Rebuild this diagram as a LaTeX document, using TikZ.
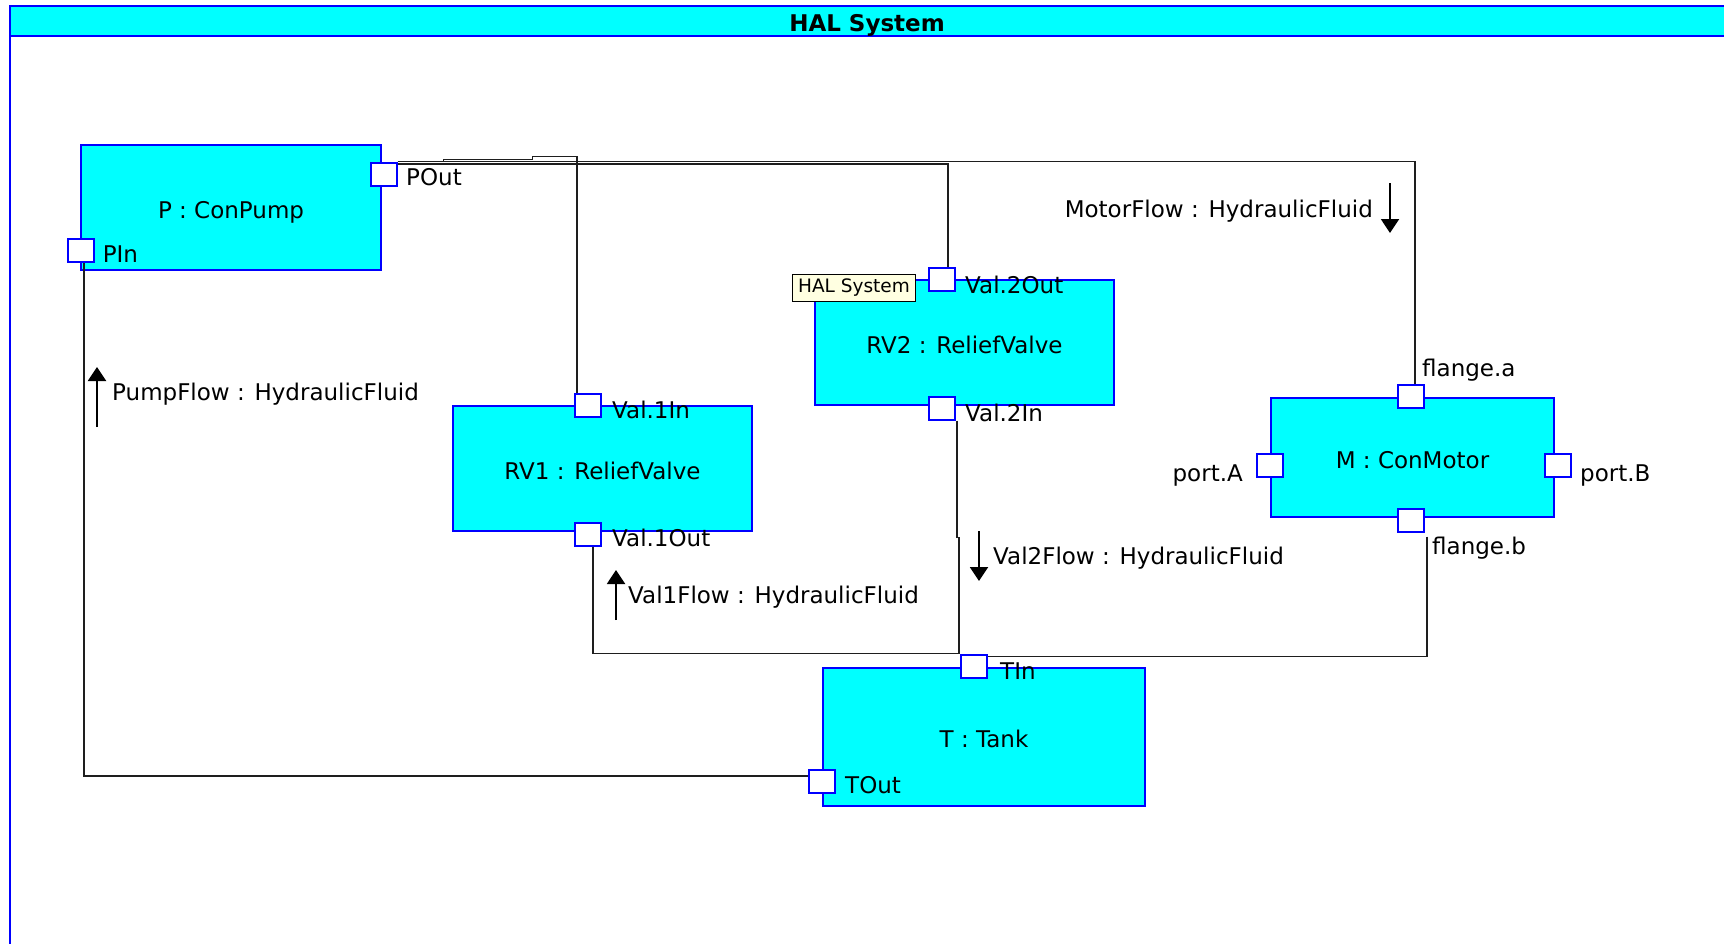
\documentclass[tikz,border=0pt]{standalone}
\usepackage{fontspec}
\setmainfont{DejaVu Sans}
\usetikzlibrary{arrows.meta,calc}
\definecolor{halcyan}{RGB}{0,255,255}
\definecolor{halblue}{RGB}{0,0,255}
\definecolor{tipyellow}{RGB}{255,255,225}
\definecolor{wirecol}{RGB}{30,30,30}
\begin{document}
\begin{tikzpicture}[x=1pt,y=-1pt,
  part/.style={rectangle,draw=halblue,fill=halcyan,line width=2pt,inner sep=0pt,text height=21pt,text depth=0pt,font=\fontsize{23}{27}\selectfont},
  port/.style={rectangle,draw=halblue,fill=white,line width=2pt,inner sep=0pt,minimum width=26pt,minimum height=23pt},
  lbl/.style={inner sep=0pt,font=\fontsize{23}{27}\selectfont},
  wire/.style={draw=wirecol,line width=1.8pt},
  flow/.style={draw=black,line width=2pt,-{Triangle[width=18pt,length=14pt]}}]
\useasboundingbox (0,0) rectangle (1724,943);
\clip (0,0) rectangle (1724,943);
% frame
\draw[halblue,line width=2pt,fill=halcyan] (10,5.5) rectangle (1740,36);
\draw[halblue,line width=2pt] (10,36) -- (10,960);
\node[inner sep=0pt,anchor=base,font=\fontsize{23}{27}\selectfont\bfseries] (title) at (867,31.5) {HAL System};
% parts
\node[part,minimum width=300pt,minimum height=125pt] (P) at (231,207.5) {P : ConPump};
\node[part,minimum width=299pt,minimum height=125pt] (RV1) at (602.5,468.5) {RV1 : ReliefValve};
\node[part,minimum width=299pt,minimum height=125pt] (RV2) at (964.5,342.5) {RV2 : ReliefValve};
\node[part,minimum width=283pt,minimum height=119pt] (M) at (1412.5,457.5) {M : ConMotor};
\node[part,minimum width=322pt,minimum height=138pt] (T) at (984,737) {T : Tank};
% ports
\node[port] (POut) at (383.5,174) {};
\node[port] (PIn) at (80.5,250.5) {};
\node[port] (Val1In) at (588,405) {};
\node[port] (Val1Out) at (588,534) {};
\node[port] (Val2Out) at (941.5,279.5) {};
\node[port] (Val2In) at (941.5,408) {};
\node[port] (TIn) at (973.5,666) {};
\node[port] (TOut) at (822,781) {};
\node[port] (flangea) at (1410.5,396) {};
\node[port] (flangeb) at (1410.5,520) {};
\node[port] (portA) at (1270,465) {};
\node[port] (portB) at (1558,465) {};
% tooltip
\node[rectangle,draw=black,fill=tipyellow,line width=1pt,inner sep=0pt,minimum width=123pt,minimum height=27pt,font=\fontsize{18.5}{21}\selectfont] (tip) at (854,288) {HAL System};
% wires
\draw[wire] ($(PIn.south)+(3.5,0)$) |- ($(TOut.west)+(0,-5)$);
\draw[wire] (POut.north east) -| ($(flangea.north)+(4.5,0)$);
\draw[wire] ($(POut.north east)+(0,2.5)$) -| ($(Val2Out.north)+(6.5,0)$);
\draw[wire] (POut.north east) -- ++(46,0) -- ++(0,-2) -- ++(89,0) -- ++(0,-3) -| ($(Val1In.north)+(-11,0)$);
\draw[wire] ($(Val2In.south)+(15.5,0)$) -- ++(0,117) -- ++(2,0) -- ($(TIn.north)+(-14.5,0)$);
\draw[wire] ($(Val1Out.south)+(5,0)$) |- ($(TIn.north)+(-14.5,0)$);
\draw[wire] ($(flangeb.south)+(16.5,4)$) |- ($(TIn.north east)+(0,3)$);
% port labels
\node[lbl,anchor=base west] (lPOut) at (406,185.5) {POut};
\node[lbl,anchor=base west] (lPIn) at (102.6,262.5) {PIn};
\node[lbl,anchor=base west] (lV1In) at (612,418) {Val.1In};
\node[lbl,anchor=base west] (lV1Out) at (612,546) {Val.1Out};
\node[lbl,anchor=base west] (lV2Out) at (965,293) {Val.2Out};
\node[lbl,anchor=base west] (lV2In) at (965,421) {Val.2In};
\node[lbl,anchor=base west] (lTIn) at (1000,679) {TIn};
\node[lbl,anchor=base west] (lTOut) at (845,793) {TOut};
\node[lbl,anchor=base west] (lfa) at (1422,376) {flange.a};
\node[lbl,anchor=base west] (lfb) at (1432,554) {flange.b};
\node[lbl,anchor=base east] (lpA) at (1243,481) {port.A};
\node[lbl,anchor=base west] (lpB) at (1580,481) {port.B};
% flow labels
\node[lbl,anchor=base west] (fPump) at (112,400) {PumpFlow : HydraulicFluid};
\node[lbl,anchor=base west] (fV1) at (628,603) {Val1Flow : HydraulicFluid};
\node[lbl,anchor=base west] (fV2) at (993,564) {Val2Flow : HydraulicFluid};
\node[lbl,anchor=base east] (fMotor) at (1373,217) {MotorFlow : HydraulicFluid};
\draw[flow] (97,427) -- (97,367);
\draw[flow] (616,620) -- (616,570);
\draw[flow] (979,531) -- (979,581);
\draw[flow] (1390,183) -- (1390,233);
\end{tikzpicture}
\end{document}
